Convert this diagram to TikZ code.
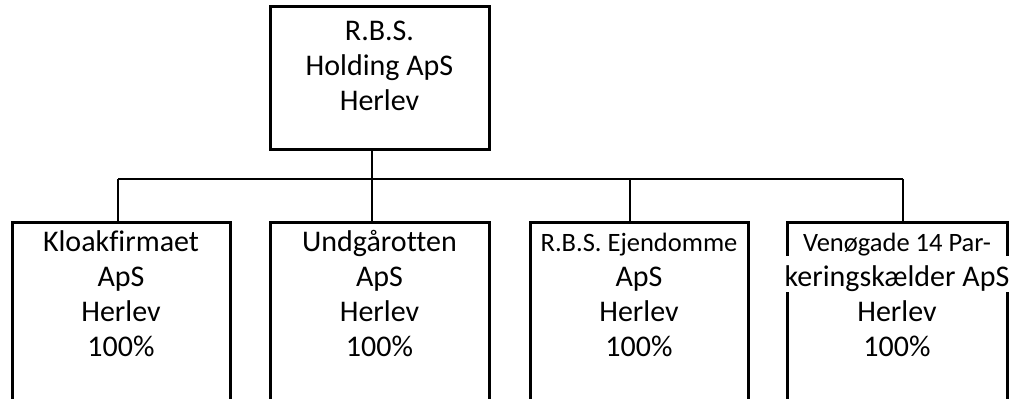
\documentclass[tikz,border=0pt]{standalone}
\usepackage{fontspec}
\setmainfont{Carlito}[Ligatures=NoCommon]
\usetikzlibrary{positioning}

\begin{document}
\begin{tikzpicture}[x=1pt, y=1pt,
    firm/.style={draw, line width=3pt, inner sep=0pt, minimum height=200pt},
    firmtext/.style={inner sep=0pt, align=center, font=\fontsize{30}{35}\selectfont},
    link/.style={line width=1.6pt}]
\useasboundingbox (0, 0) rectangle (1021, 399);
\clip (0, 0) rectangle (1021, 399);
% boxes
\node[firm, minimum width=219pt, minimum height=143pt] (holding) at (379.5, 320.5) {};
\node[firm, minimum width=218pt] (kloak)  at (121,   76.5) {};
\node[firm, minimum width=219pt] (undg)   at (379.5, 76.5) {};
\node[firm, minimum width=218pt] (ejend)  at (639,   76.5) {};
\node[firm, minimum width=220pt] (parker) at (897,   76.5) {};
% connectors
\coordinate (j1) at (118, 220);
\coordinate (j2) at (372, 220);
\coordinate (j3) at (630, 220);
\coordinate (j4) at (903, 220);
\draw[link, line width=1.3pt] (j1) -- (j4);
\draw[link] (j1) -- (j1 |- kloak.north);
\draw[link] (j2 |- holding.south) -- (j2 |- undg.north);
\draw[link] (j3) -- (j3 |- ejend.north);
\draw[link] (j4) -- (j4 |- parker.north);
% texts
\node[firmtext, below=10.5pt of holding.north] (holdingtxt) {\strut R.B.S.\\Holding ApS\\Herlev};
\node[firmtext, below=5.5pt of kloak.north]  (kloaktxt)  {\strut Kloakfirmaet\\ApS\\Herlev\\100\%};
\node[firmtext, below=5.5pt of undg.north]   (undgtxt)   {\strut Undgårotten\\ApS\\Herlev\\100\%};
\node[firmtext, below=5.5pt of ejend.north]  (ejendtxt)  {\strut {\fontsize{26.5}{35}\selectfont R.B.S. Ejendomme}\\ApS\\Herlev\\100\%};
\node[firmtext, below=5.5pt of parker.north] (parkertxt) {\strut {\fontsize{26.5}{35}\selectfont Venøgade 14 Par-}\\
    \smash{\fboxsep=0pt\colorbox{white}{\rule[-6pt]{0pt}{36pt}keringskælder ApS}}\\Herlev\\100\%};
\end{tikzpicture}
\end{document}
